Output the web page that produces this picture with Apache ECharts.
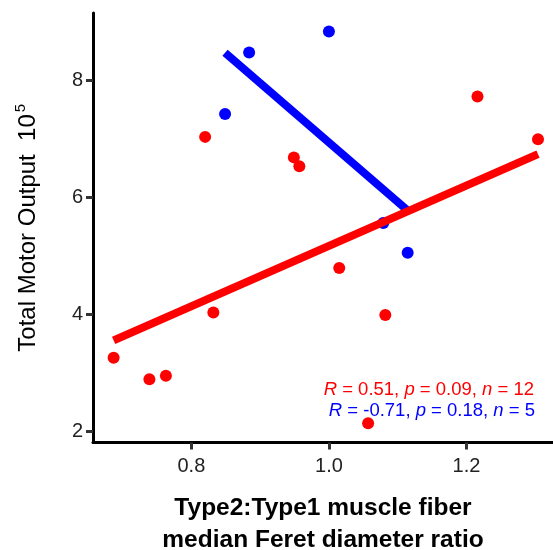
<!DOCTYPE html>
<html>
<head>
<meta charset="utf-8">
<script src="https://cdn.jsdelivr.net/npm/echarts@6/dist/echarts.min.js"></script>
<style>html,body{margin:0;padding:0;background:#fff}#c{width:553px;height:550px}</style>
</head>
<body>
<div id="c"></div>
<script>
// Red group (n = 12)
const redX = [0.687, 0.739, 0.763, 0.820, 0.832, 0.949, 0.957, 1.015, 1.057, 1.082, 1.216, 1.304];
const redY = [3.26, 2.89, 2.95, 7.03, 4.03, 6.68, 6.53, 4.79, 2.14, 3.99, 7.72, 6.99];
// Blue group (n = 5)
const blueX = [0.849, 0.884, 1.000, 1.079, 1.1145];
const blueY = [7.42, 8.47, 8.83, 5.56, 5.05];
// Fitted regression lines (endpoints)
const redFitX = [0.687, 1.304];
const redFitY = [3.556, 6.735];
const blueFitX = [0.849, 1.1145];
const blueFitY = [8.467, 5.773];
// Ticks
const xTicks = [0.8, 1.0, 1.2];
const yTicks = [2, 4, 6, 8];
// Annotations
const redStat = {R: '0.51', p: '0.09', n: '12'};
const blueStat = {R: '-0.71', p: '0.18', n: '5'};

const zip = (a, b) => a.map((v, i) => [v, b[i]]);
const FONT = '"Liberation Sans", Arial, sans-serif';
const RED = '#FF0000', BLUE = '#0000FF';

function statText(s) {
  return '{i|R} = ' + s.R + ', {i|p} = ' + s.p + ', {i|n} = ' + s.n;
}

const chart = echarts.init(document.getElementById('c'), null, {renderer: 'canvas'});
chart.setOption({
  animation: false,
  backgroundColor: '#fff',
  grid: {left: 93, right: 0, top: 13, bottom: 107.5, containLabel: false, outerBoundsMode: 'none'},
  xAxis: {
    type: 'value', min: 0.657, max: 1.3258,
    name: 'Type2:Type1 muscle fiber\nmedian Feret diameter ratio',
    nameLocation: 'middle', nameGap: 50,
    nameTextStyle: {fontFamily: FONT, fontSize: 24.5, fontWeight: 'bold', color: '#000', lineHeight: 32},
    axisLine: {show: true, onZero: false, lineStyle: {color: '#000', width: 3}},
    axisTick: {show: true, length: 7, customValues: xTicks, lineStyle: {color: '#333', width: 3}},
    axisLabel: {customValues: xTicks, margin: 14, fontFamily: FONT, fontSize: 20, color: '#222',
      formatter: v => v.toFixed(1)},
    splitLine: {show: false}
  },
  yAxis: {
    type: 'value', min: 1.812, max: 9.145,
    name: '{a|Total Motor Output  10}{s|5}',
    nameLocation: 'middle', nameRotate: 90, nameGap: 50,
    nameTextStyle: {
      rich: {
        a: {fontFamily: FONT, fontSize: 24, color: '#000', lineHeight: 30, verticalAlign: 'middle'},
        s: {fontFamily: FONT, fontSize: 15, color: '#000', lineHeight: 30, verticalAlign: 'top', padding: [0, 0, 0, 2]}
      }
    },
    axisLine: {show: true, onZero: false, lineStyle: {color: '#000', width: 3}},
    axisTick: {show: true, length: 7, customValues: yTicks, lineStyle: {color: '#333', width: 3}},
    axisLabel: {customValues: yTicks, margin: 10, fontFamily: FONT, fontSize: 20, color: '#222'},
    splitLine: {show: false}
  },
  series: [
    {type: 'scatter', data: zip(blueX, blueY), symbolSize: 12, itemStyle: {color: BLUE, opacity: 1}, z: 2},
    {type: 'scatter', data: zip(redX, redY), symbolSize: 12, itemStyle: {color: RED, opacity: 1}, z: 2},
    {type: 'line', data: zip(blueFitX, blueFitY), showSymbol: false, symbol: 'none',
      lineStyle: {color: BLUE, width: 8, cap: 'butt'}, z: 3},
    {type: 'line', data: zip(redFitX, redFitY), showSymbol: false, symbol: 'none',
      lineStyle: {color: RED, width: 8, cap: 'butt'}, z: 4}
  ],
  graphic: [
    {type: 'text', x: 534, y: 390, z: 10,
      style: {text: statText(redStat), fill: RED, font: '18.5px ' + FONT, align: 'right', verticalAlign: 'middle',
        rich: {i: {fontStyle: 'italic', fontFamily: FONT, fontSize: 18.5, fill: RED}}}},
    {type: 'text', x: 535, y: 411, z: 10,
      style: {text: statText(blueStat), fill: BLUE, font: '18.5px ' + FONT, align: 'right', verticalAlign: 'middle',
        rich: {i: {fontStyle: 'italic', fontFamily: FONT, fontSize: 18.5, fill: BLUE}}}}
  ]
});
</script>
</body>
</html>
